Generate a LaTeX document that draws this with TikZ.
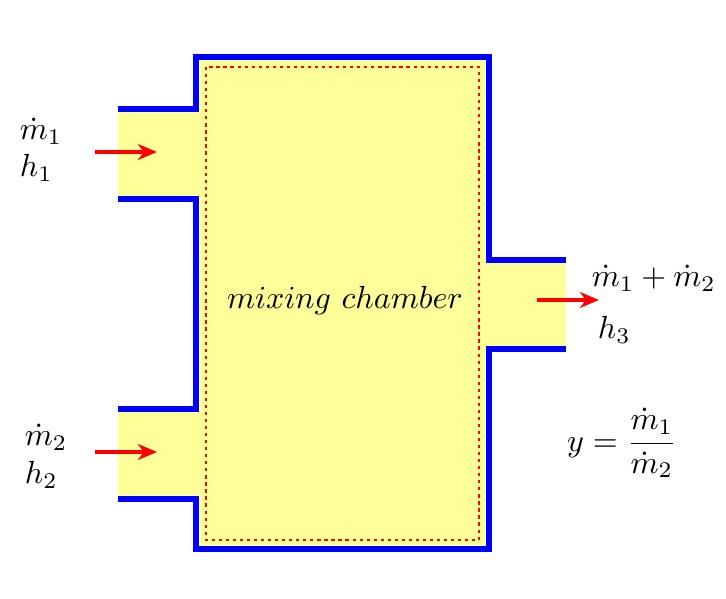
\documentclass[tikz,border=0pt]{standalone}
\usetikzlibrary{arrows.meta}
\definecolor{fillyel}{HTML}{FFFF99}
\begin{document}
\begin{tikzpicture}[x=0.3125pt,y=-0.3125pt,
  wall/.style={blue,line width=1.9pt},
  flow/.style={red,line width=1pt,-{Stealth[length=6pt,width=5pt]}}]
\useasboundingbox (0,0) rectangle (726,599);
\fill[fillyel] (118,109)--(196,109)--(196,57)--(489,57)--(489,260)--(566,260)--(566,349)--(489,349)--(489,549)--(196,549)--(196,499)--(118,499)--(118,409)--(196,409)--(196,199)--(118,199)--cycle;
\draw[red,line width=0.6pt,dash pattern=on 1pt off 1.2pt] (206,67) rectangle (479,540);
\draw[wall] (118,109)--(196,109)--(196,57)--(489,57)--(489,260)--(566,260);
\draw[wall] (566,349)--(489,349)--(489,549)--(196,549)--(196,499)--(118,499);
\draw[wall] (118,409)--(196,409)--(196,199)--(118,199);
\coordinate (a1) at (95,152); \coordinate (b1) at (157,152);
\coordinate (a2) at (95,452); \coordinate (b2) at (157,452);
\coordinate (a3) at (537,300); \coordinate (b3) at (599,300);
\draw[flow] (a1)--(b1);
\draw[flow] (a2)--(b2);
\draw[flow] (a3)--(b3);
\node (mc) at (345,300) {$mixing\ chamber$};
\node[anchor=west,inner sep=1pt] (m1) at (16,131) {$\dot m_1$};
\node[anchor=west,inner sep=1pt] (h1) at (16,168) {$h_1$};
\node[anchor=west,inner sep=1pt] (m2) at (21,437) {$\dot m_2$};
\node[anchor=west,inner sep=1pt] (h2) at (21,475) {$h_2$};
\node[anchor=west,inner sep=1pt] (m3) at (588,278) {$\dot m_1+\dot m_2$};
\node[anchor=west,inner sep=1pt] (h3) at (594,330) {$h_3$};
\node (y) at (622,443) {$y=\displaystyle\frac{\dot m_1}{\dot m_2}$};
\end{tikzpicture}
\end{document}
